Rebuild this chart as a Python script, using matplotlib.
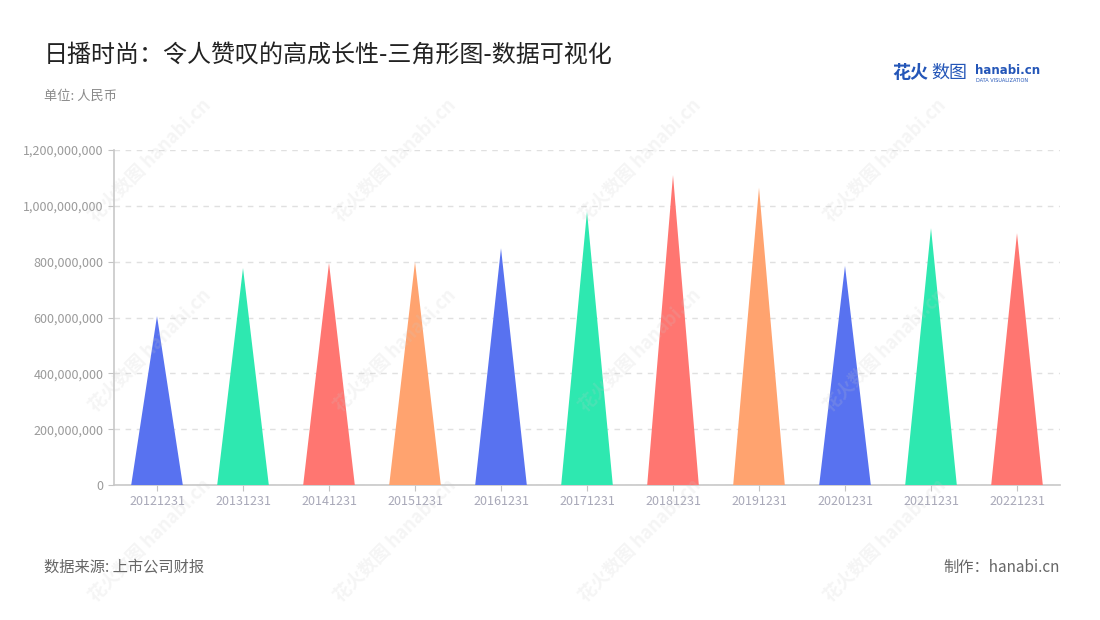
import matplotlib.pyplot as plt
from matplotlib.ticker import FuncFormatter

plt.rcParams['font.family'] = ['Noto Sans CJK SC', 'DejaVu Sans']

# Data
periods = ['20121231', '20131231', '20141231', '20151231', '20161231', '20171231',
           '20181231', '20191231', '20201231', '20211231', '20221231']
values = [605e6, 777e6, 795e6, 799e6, 848e6, 980e6,
          1110e6, 1065e6, 785e6, 920e6, 902e6]
palette = ['#5872f0', '#2ee8b0', '#ff7671', '#ffa36f']

fig = plt.figure(figsize=(11, 6.2), dpi=100)
ax = fig.add_axes([114 / 1100, 1 - 485 / 620, (1060 - 114) / 1100, (485 - 150) / 620])

half = 0.3
for i, v in enumerate(values):
    ax.fill([i - half, i, i + half], [0, v, 0], color=palette[i % 4], lw=0, zorder=3)

ax.set_xlim(-0.5, len(periods) - 0.5)
ax.set_ylim(0, 1.2e9)
ax.set_yticks([0, 2e8, 4e8, 6e8, 8e8, 1e9, 1.2e9])
ax.yaxis.set_major_formatter(FuncFormatter(lambda y, _: f'{int(y):,}'))
ax.set_xticks(range(len(periods)))
ax.set_xticklabels(periods)
ax.tick_params(axis='x', colors='#c4c4c4', labelcolor='#a8a8b8', labelsize=9, length=4)
ax.tick_params(axis='y', colors='#c4c4c4', labelcolor='#9a9a9a', labelsize=9, length=4)
ax.grid(axis='y', linestyle=(0, (4, 4)), color='#e0e0e0', lw=1, zorder=0)
for s in ['top', 'right']:
    ax.spines[s].set_visible(False)
for s in ['left', 'bottom']:
    ax.spines[s].set_color('#c8c8c8')
    ax.spines[s].set_linewidth(1.2)

# faint watermarks
for wx in [150, 395, 640, 885]:
    for wy in [160, 350, 540]:
        fig.text(wx / 1100, 1 - wy / 620, '花火数图 hanabi.cn', rotation=45,
                 fontsize=13, color='#c8c8c8', alpha=0.18, ha='center', va='center',
                 fontweight='bold')

fig.text(44 / 1100, 1 - 55 / 620, '日播时尚：令人赞叹的高成长性-三角形图-数据可视化',
         fontsize=17.3, color='#222222', va='center')
fig.text(44 / 1100, 1 - 96 / 620, '单位: 人民币', fontsize=9.5, color='#8a8a8a', va='center')

# logo
fig.text(892 / 1100, 1 - 73 / 620, '花火', fontsize=13, color='#2456b8',
         fontweight='bold', va='center')
fig.text(931 / 1100, 1 - 73 / 620, '数图', fontsize=13, color='#2456b8', va='center')
fig.text(975 / 1100, 1 - 70 / 620, 'hanabi.cn', fontsize=8.5, color='#2456b8',
         fontweight='bold', va='center', family=['DejaVu Sans'])
fig.text(976 / 1100, 1 - 80 / 620, 'DATA VISUALIZATION', fontsize=3.6, color='#2456b8',
         va='center', family=['DejaVu Sans'])

fig.text(44 / 1100, 1 - 567 / 620, '数据来源: 上市公司财报', fontsize=11, color='#666666', va='center')
fig.text(1060 / 1100, 1 - 567 / 620, '制作：hanabi.cn', fontsize=11, color='#666666',
         va='center', ha='right')

fig.savefig('out.png', dpi=100)
